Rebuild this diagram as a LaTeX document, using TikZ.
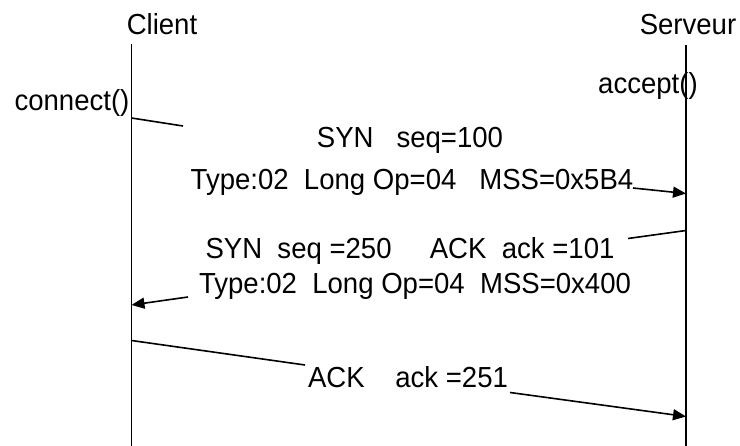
\documentclass[tikz,border=0pt]{standalone}
\usepackage{fontspec}
\setmainfont{Liberation Sans}[FakeStretch=0.95]
\usetikzlibrary{arrows.meta}
\begin{document}
\begin{tikzpicture}[x=1pt,y=-1pt,line width=1.6pt,
  lbl/.style={font=\fontsize{29}{31}\selectfont,inner sep=0pt,anchor=base},
  msg/.style={-{Triangle[length=13pt,width=11pt]}}]
\useasboundingbox (0,0) rectangle (740,446);

% lifelines
\coordinate (ctop) at (131.5,44);
\coordinate (cbot) at (131.5,446);
\coordinate (stop) at (686,45);
\coordinate (sbot) at (686,446);
\draw (ctop) -- (cbot);
\draw (stop) -- (sbot);

% headers and calls
\node[lbl] (client)  at (162,35) {Client};
\node[lbl] (serveur) at (688,35) {Serveur};
\node[lbl] (connect) at (72,111) {connect()};
\node[lbl] (accept)  at (648,94) {accept()};

% SYN
\node[lbl] (syn1) at (410,148) {SYN~~~seq=100};
\node[lbl] (syn2) at (412,190) {Type:02~~Long Op=04~~~MSS=0x5B4};
\coordinate (s1a) at (131.5,118);
\coordinate (s1b) at (183,126);
\coordinate (s1c) at (633,188);
\coordinate (s1d) at (686,193.5);
\draw (s1a) -- (s1b);
\draw[msg] (s1c) -- (s1d);

% SYN-ACK
\node[lbl] (synack1) at (410,258.5) {SYN~~seq =250~~~~~ACK~~ack =101};
\node[lbl] (synack2) at (415,294) {Type:02~~Long Op=04~~MSS=0x400};
\coordinate (s2a) at (686,230.5);
\coordinate (s2b) at (628,238.5);
\coordinate (s2c) at (188,297);
\coordinate (s2d) at (131.5,305);
\draw (s2a) -- (s2b);
\draw[msg] (s2c) -- (s2d);

% ACK
\node[lbl] (ack) at (408,388) {ACK~~~~ack =251};
\coordinate (s3a) at (131.5,340.5);
\coordinate (s3b) at (305,365);
\coordinate (s3c) at (510,392.5);
\coordinate (s3d) at (686,416.5);
\draw (s3a) -- (s3b);
\draw[msg] (s3c) -- (s3d);
\end{tikzpicture}
\end{document}
